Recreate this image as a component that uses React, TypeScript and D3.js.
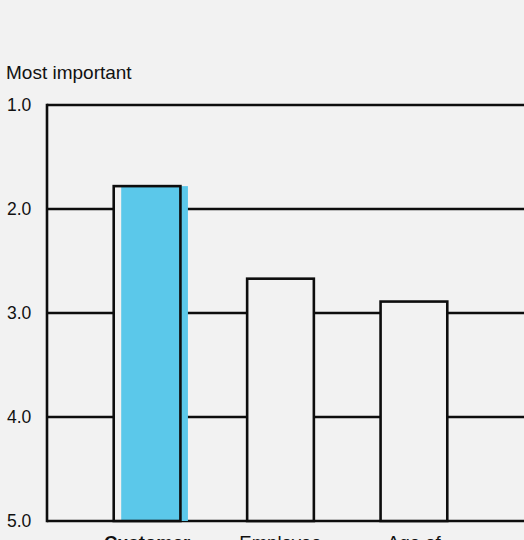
import React from "react";
import * as d3 from "d3";

const categories = ["Customer", "Employee", "Age of"];
const values = [1.78, 2.67, 2.89];
const highlightIndex = 0;
const yTicks = [1, 2, 3, 4, 5];
const yTickLabels = ["1.0", "2.0", "3.0", "4.0", "5.0"];
const title = "Most important";

export default function App() {
  const W = 524;
  const H = 540;
  const left = 47;
  const top = 105;
  const bottom = 521;
  const y = d3.scaleLinear().domain([1, 5]).range([top, bottom]);
  const x = d3
    .scaleBand<string>()
    .domain(categories)
    .range([left, 514])
    .paddingInner(0.5)
    .paddingOuter(0.5);
  const bw = x.bandwidth();
  const font = "'Liberation Sans', Arial, Helvetica, sans-serif";
  const stroke = "#0d0d0d";
  const sw = 2.6;
  const blue = "#5bc8ea";
  const bg = "#f2f2f2";

  return (
    <svg
      width={W}
      height={H}
      style={{ position: "absolute", left: 0, top: 0, display: "block" }}
      fontFamily={font}
    >
      <rect x={0} y={0} width={W} height={H} fill={bg} />
      <text x={6} y={79} fontSize={19} fill="#111">
        {title}
      </text>
      {yTicks.map((t, i) => (
        <g key={t}>
          <line x1={left} x2={W + 10} y1={y(t)} y2={y(t)} stroke={stroke} strokeWidth={sw} />
          <text x={7} y={y(t)} dy="0.36em" fontSize={17.5} fill="#111">
            {yTickLabels[i]}
          </text>
        </g>
      ))}
      <line x1={left} x2={left} y1={y(1) - sw / 2} y2={y(5) + sw / 2} stroke={stroke} strokeWidth={sw} />
      {categories.map((c, i) => {
        const bx = x(c) as number;
        const by = y(values[i]);
        const bh = y(5) - by;
        return (
          <g key={c}>
            <rect x={bx} y={by} width={bw} height={bh} fill={bg} />
            {i === highlightIndex && (
              <rect x={bx + 7.5} y={by} width={bw} height={bh} fill={blue} />
            )}
            <rect x={bx} y={by} width={bw} height={bh} fill="none" stroke={stroke} strokeWidth={sw} />
            <text
              x={bx + bw / 2}
              y={549}
              textAnchor="middle"
              fontSize={18.5}
              fontWeight={i === highlightIndex ? "bold" : "normal"}
              fill="#111"
            >
              {c}
            </text>
          </g>
        );
      })}
    </svg>
  );
}
